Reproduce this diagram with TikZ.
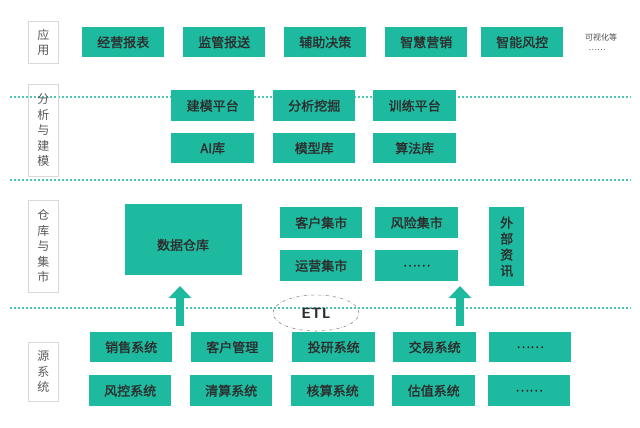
\documentclass[tikz,border=0pt]{standalone}
\usepackage{fontspec}
\newfontfamily\cjk{Noto Sans CJK SC}
\newfontfamily\cjkb{Noto Sans CJK SC}[FakeBold=1.5]
\usetikzlibrary{shapes.geometric,arrows.meta}
\definecolor{teal1}{RGB}{30,186,160}
\definecolor{txt}{RGB}{45,45,45}
\tikzset{
  box/.style={fill=teal1,text=txt,inner sep=0pt,font=\cjkb\fontsize{13}{13}\selectfont},
  lab/.style={draw=black!15,line width=0.6pt,text=black!65,inner sep=0pt,align=center,font=\cjk\fontsize{12}{15.5}\selectfont},
  sep/.style={dotted,line width=2pt,draw=teal1!80},
  up/.style={draw=teal1,line width=8pt,-{Triangle[width=22pt,length=12pt]}}
}
\newcommand{\bx}[6]{\node[box,minimum width=#3pt-#1pt,minimum height=#4pt-#2pt,anchor=north west] (#5) at (#1,#2) {#6};}
\begin{document}
\begin{tikzpicture}[x=1pt,y=-1pt]
\useasboundingbox[fill=white] (0,0) rectangle (640,428);
% separators
\draw[sep] (10,97) -- (631,97);
\draw[sep] (10,180) -- (631,180);
\draw[sep] (10,308) -- (631,308);
% labels
\node[lab,minimum width=30pt,minimum height=42pt,anchor=north west] (L1) at (28,21) {应\\用};
\node[lab,minimum width=30pt,minimum height=92pt,anchor=north west] (L2) at (28,84) {分\\析\\与\\建\\模};
\node[lab,minimum width=30pt,minimum height=92pt,anchor=north west] (L3) at (28,200) {仓\\库\\与\\集\\市};
\node[lab,minimum width=30pt,minimum height=59pt,anchor=north west] (L4) at (28,342) {源\\系\\统};
% application
\bx{82}{27}{164}{57}{a1}{经营报表}
\bx{183}{27}{265}{57}{a2}{监管报送}
\bx{284}{27}{366}{57}{a3}{辅助决策}
\bx{385}{27}{467}{57}{a4}{智慧营销}
\bx{481}{27}{563}{57}{a5}{智能风控}
\node[font=\cjk\fontsize{8}{8}\selectfont,text=black!70] (v1) at (601,37) {可视化等};
\node[font=\cjk\fontsize{8}{8}\selectfont,text=black!70,anchor=west] (v2) at (585,50) {……};
% analysis
\bx{171}{90}{254}{121}{b1}{建模平台}
\bx{273}{90}{355}{121}{b2}{分析挖掘}
\bx{373}{90}{456}{121}{b3}{训练平台}
\bx{171}{133}{254}{163}{b4}{AI库}
\bx{273}{133}{355}{163}{b5}{模型库}
\bx{373}{133}{456}{163}{b6}{算法库}
% warehouse
\node[cylinder,shape border rotate=90,aspect=0.25,fill=teal1,draw=white,line width=0.8pt,minimum width=118pt,minimum height=72pt,anchor=north,inner sep=0pt,font=\cjkb\fontsize{13}{13}\selectfont,text=txt] (dw) at (183,203) {};
\node[font=\cjkb\fontsize{13}{13}\selectfont,text=txt] (dwt) at (183,245) {数据仓库};
\bx{280}{207}{362}{238}{m1}{客户集市}
\bx{375}{207}{458}{238}{m2}{风险集市}
\bx{280}{250}{362}{281}{m3}{运营集市}
\bx{375}{250}{458}{281}{m4}{……}
\node[box,minimum width=35pt,minimum height=79pt,anchor=north west,align=center,font=\cjkb\fontsize{13}{16}\selectfont] (ext) at (489,207) {外\\部\\资\\讯};
% ETL
\node[ellipse,draw=black!45,dash dot,line width=0.6pt,minimum width=86pt,minimum height=36pt,font=\sffamily\bfseries\fontsize{15}{15}\selectfont,text=txt] (etl) at (316,313) {ETL};
% sources
\bx{90}{332}{172}{362}{s1}{销售系统}
\bx{191}{332}{273}{362}{s2}{客户管理}
\bx{292}{332}{375}{362}{s3}{投研系统}
\bx{393}{332}{476}{362}{s4}{交易系统}
\bx{489}{332}{571}{362}{s5}{……}
\bx{89}{375}{171}{406}{s6}{风控系统}
\bx{190}{375}{272}{406}{s7}{清算系统}
\bx{291}{375}{374}{406}{s8}{核算系统}
\bx{392}{375}{475}{406}{s9}{估值系统}
\bx{488}{375}{570}{406}{s10}{……}
% arrows
\coordinate (p1) at (180,326);
\coordinate (q1) at (180,286);
\coordinate (p2) at (460,326);
\coordinate (q2) at (460,286);
\draw[up] (p1) -- (q1);
\draw[up] (p2) -- (q2);
\end{tikzpicture}
\end{document}
